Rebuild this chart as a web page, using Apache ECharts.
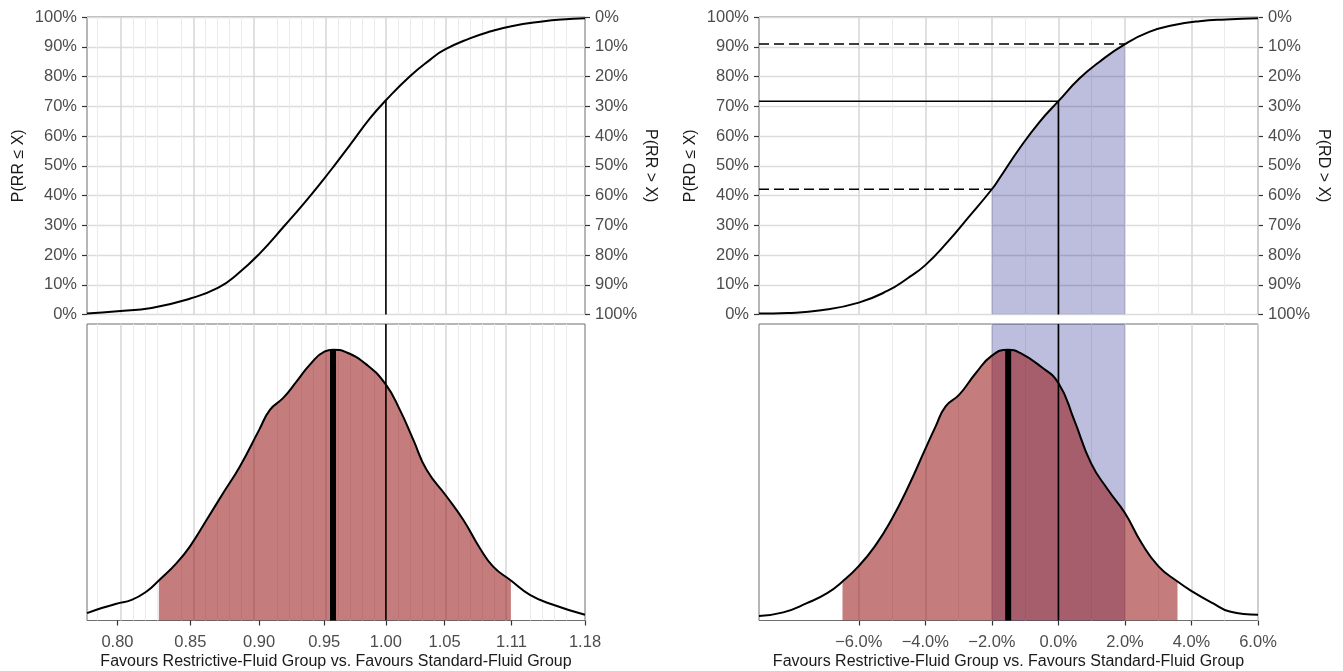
<!DOCTYPE html>
<html><head><meta charset="utf-8">
<script src="https://cdn.jsdelivr.net/npm/echarts@6/dist/echarts.min.js"></script>
<style>html,body{margin:0;padding:0;background:#fff}#c{width:1343px;height:671px}</style>
</head><body><div id="c"></div>
<script>
// ---------------- DATA ----------------
const rrTicks = [0.80, 0.85, 0.90, 0.95, 1.00, 1.05, 1.11, 1.18];
const rdTicks = [-6, -4, -2, 0, 2, 4, 6];
const rdMinorTicks = [-5, -3, -1, 1, 3, 5];

// Relative risk: cumulative probability P(RR <= X)
const rrCdfX = [0.78, 0.80, 0.823, 0.85, 0.870, 0.884, 0.90, 0.9195, 0.935, 0.95, 0.9585, 0.9705, 0.9868, 1.00, 1.0202, 1.0373, 1.05, 1.0723, 1.0903, 1.11, 1.1387, 1.1576, 1.18];
const rrCdfY = [0.003, 0.011, 0.022, 0.054, 0.090, 0.136, 0.203, 0.300, 0.378, 0.457, 0.503, 0.569, 0.659, 0.720, 0.801, 0.856, 0.890, 0.928, 0.951, 0.969, 0.985, 0.992, 0.996];
// Relative risk: posterior density (relative units)
const rrDensX = [0.780, 0.7896, 0.7994, 0.8095, 0.8196, 0.828, 0.8403, 0.8496, 0.8616, 0.8735, 0.8857, 0.900, 0.9081, 0.9182, 0.9285, 0.9388, 0.9505, 0.957, 0.9678, 0.9841, 1.000, 1.0117, 1.023, 1.0344, 1.0518, 1.0664, 1.0813, 1.0933, 1.1095, 1.1272, 1.1492, 1.18];
const rrDensY = [0.027, 0.046, 0.062, 0.076, 0.107, 0.148, 0.212, 0.273, 0.372, 0.471, 0.569, 0.704, 0.778, 0.822, 0.883, 0.945, 0.994, 1.000, 0.990, 0.945, 0.871, 0.778, 0.668, 0.557, 0.458, 0.372, 0.267, 0.199, 0.148, 0.095, 0.058, 0.021];
const rrRef = 1.00, rrMedian = 0.957, rrCrI = [0.828, 1.1095];

// Risk difference (%): cumulative probability P(RD <= X)
const rdCdfX = [-9, -8.14, -7.13, -6, -5.13, -4.53, -4, -3.33, -2.73, -2, -1.77, -1.17, -0.57, 0, 0.63, 1.23, 2, 2.73, 3.44, 4.24, 5.04, 6];
const rdCdfY = [0.003, 0.005, 0.014, 0.040, 0.080, 0.122, 0.166, 0.244, 0.323, 0.421, 0.458, 0.558, 0.647, 0.717, 0.793, 0.849, 0.909, 0.950, 0.972, 0.986, 0.992, 0.996];
// Risk difference: posterior density (relative units)
const rdDensX = [-9, -8.27, -7.56, -6.95, -6.49, -6.01, -5.52, -5.02, -4.51, -4.01, -3.69, -3.39, -2.98, -2.48, -2, -1.51, -1.15, -0.54, 0, 0.47, 0.98, 1.49, 2, 2.5, 3.01, 3.58, 4.03, 4.64, 5.15, 6];
const rdDensY = [0.017, 0.030, 0.064, 0.101, 0.144, 0.200, 0.274, 0.372, 0.495, 0.631, 0.717, 0.791, 0.834, 0.914, 0.978, 1.000, 0.988, 0.939, 0.877, 0.742, 0.581, 0.483, 0.397, 0.286, 0.200, 0.144, 0.107, 0.064, 0.033, 0.021];
const rdRef = 0, rdMedian = -1.51, rdCrI = [-6.49, 3.58], rdRope = [-2, 2];

const xTitle = 'Favours Restrictive-Fluid Group vs. Favours Standard-Fluid Group';

// ---------------- CHART ----------------
const ln = Math.log;
const RR_MIN = 0.78, RR_MAX = 1.18, RD_MIN = -9, RD_MAX = 6, DENS_MAX = 1.095;
const FONT = '"Liberation Sans", Arial, Helvetica, sans-serif';
const LABEL_COL = '#4d4d4d';
const at = (xs, ys, x) => ys[xs.indexOf(x)];
const pct = v => Math.round(v * 100) + '%';
const rdFmt = v => (v < 0 ? '\u2212' : '') + Math.abs(v).toFixed(1) + '%';

const rrMajorL = rrTicks.map(ln);
const rrMinorL = [];
for (let i = 0; i < rrMajorL.length - 1; i++) {
  const a = rrMajorL[i], b = rrMajorL[i + 1];
  for (let k = 1; k < 5; k++) rrMinorL.push(a + (b - a) * k / 5);
}
const rrStep0 = (rrMajorL[1] - rrMajorL[0]) / 5;
if (rrMajorL[0] - rrStep0 > ln(RR_MIN)) rrMinorL.unshift(rrMajorL[0] - rrStep0);

function gridLines(majors, minors) {
  return minors.map(v => ({ xAxis: v, lineStyle: { color: '#ebebeb', width: 1, type: 'solid' } }))
    .concat(majors.map(v => ({ xAxis: v, lineStyle: { color: '#d6d6d6', width: 1.5, type: 'solid' } })));
}
function helper(xi, yi, majors, minors, extra) {
  return Object.assign({
    type: 'line', xAxisIndex: xi, yAxisIndex: yi, data: [], z: 1, silent: true,
    markLine: { silent: true, z: 1, symbol: 'none', animation: false, label: { show: false },
      emphasis: { disabled: true }, data: gridLines(majors, minors) }
  }, extra || {});
}
function lineSeries(xi, yi, data, style, extra) {
  return Object.assign({ type: 'line', xAxisIndex: xi, yAxisIndex: yi, data, symbol: 'none', silent: true,
    clip: true, lineStyle: style, z: 5, animation: false }, extra || {});
}

const rrCdf = rrCdfX.map((x, i) => [ln(x), rrCdfY[i]]);
const rrDens = rrDensX.map((x, i) => [ln(x), rrDensY[i]]);
const rrShade = rrDensX.map((x, i) => [x, rrDensY[i]]).filter(p => p[0] >= rrCrI[0] && p[0] <= rrCrI[1]).map(p => [ln(p[0]), p[1]]);
const rdCdf = rdCdfX.map((x, i) => [x, rdCdfY[i]]);
const rdDens = rdDensX.map((x, i) => [x, rdDensY[i]]);
const rdShade = rdDens.filter(p => p[0] >= rdCrI[0] && p[0] <= rdCrI[1]);
const rdRopeCdf = rdCdf.filter(p => p[0] >= rdRope[0] && p[0] <= rdRope[1]);

const rrRefP = at(rrCdfX, rrCdfY, rrRef);
const rdRefP = at(rdCdfX, rdCdfY, rdRef);
const rdLoP = at(rdCdfX, rdCdfY, rdRope[0]);
const rdHiP = at(rdCdfX, rdCdfY, rdRope[1]);

const GRID_BORDER = { show: true, borderColor: '#6e6e6e', borderWidth: 1, backgroundColor: 'transparent' };
const nameStyle = { fontFamily: FONT, fontSize: 16, color: '#1a1a1a' };
const labStyle = { fontFamily: FONT, fontSize: 16.5, color: LABEL_COL };

function topX(gi, min, max) {
  return { gridIndex: gi, type: 'value', min, max, axisLine: { show: false, onZero: false }, axisTick: { show: false },
    axisLabel: { show: false }, splitLine: { show: false } };
}
function botX(gi, min, max, vals, fmt) {
  return { gridIndex: gi, type: 'value', min, max, axisLine: { show: false, onZero: false },
    axisTick: { show: true, customValues: vals, length: 5, lineStyle: { color: '#333', width: 1.2 } },
    axisLabel: Object.assign({ customValues: vals, formatter: fmt, margin: 13 }, labStyle),
    splitLine: { show: false },
    name: xTitle, nameLocation: 'middle', nameGap: 33, nameTextStyle: nameStyle };
}
function pY(gi, pos, name, inverse) {
  return { gridIndex: gi, type: 'value', position: pos, inverse: !!inverse, min: 0, max: 1, interval: 0.1,
    axisLine: { show: false, onZero: false },
    axisTick: { show: true, length: 5, lineStyle: { color: '#333', width: 1.2 } },
    axisLabel: Object.assign({ formatter: pct, margin: 10 }, labStyle),
    splitLine: { show: pos === 'left', lineStyle: { color: '#dcdcdc', width: 1.3 } },
    name, nameLocation: 'middle', nameGap: pos === 'left' ? 60 : 57, nameRotate: pos === 'left' ? 90 : -90,
    nameTextStyle: nameStyle };
}
function dY(gi) { return { gridIndex: gi, type: 'value', min: 0, max: DENS_MAX, show: false,
  axisLine: { show: false, onZero: false }, splitLine: { show: false } }; }

const black = w => ({ color: '#000', width: w, type: 'solid' });
const RED = 'rgba(148,17,17,0.55)';
const BLUE = 'rgba(0,0,128,0.26)';

const option = {
  animation: false,
  backgroundColor: '#fff',
  grid: [
    Object.assign({ left: 87, top: 17, width: 498, height: 297.5 }, GRID_BORDER),
    Object.assign({ left: 87, top: 324, width: 498, height: 296.5 }, GRID_BORDER),
    Object.assign({ left: 759, top: 17, width: 499, height: 297.5 }, GRID_BORDER),
    Object.assign({ left: 759, top: 324, width: 499, height: 296.5 }, GRID_BORDER)
  ],
  xAxis: [
    topX(0, ln(RR_MIN), ln(RR_MAX)),
    botX(1, ln(RR_MIN), ln(RR_MAX), rrMajorL, v => Math.exp(v).toFixed(2)),
    topX(2, RD_MIN, RD_MAX),
    botX(3, RD_MIN, RD_MAX, rdTicks, rdFmt)
  ],
  yAxis: [
    pY(0, 'left', 'P(RR \u2264 X)'),
    pY(0, 'right', 'P(RR > X)', true),
    dY(1),
    pY(2, 'left', 'P(RD \u2264 X)'),
    pY(2, 'right', 'P(RD > X)', true),
    dY(3)
  ],
  series: [
    // ---- top left
    helper(0, 0, rrMajorL, rrMinorL),
    lineSeries(0, 0, rrCdf, black(2), { smooth: 0.5 }),
    lineSeries(0, 0, [[ln(rrRef), 0], [ln(rrRef), rrRefP]], black(1.6)),
    // ---- bottom left
    helper(1, 2, rrMajorL, rrMinorL),
    lineSeries(1, 2, rrShade, { width: 0, opacity: 0 }, { smooth: true, areaStyle: { color: RED, opacity: 1 }, z: 3 }),
    lineSeries(1, 2, rrDens, black(2), { smooth: true }),
    lineSeries(1, 2, [[ln(rrMedian), 0], [ln(rrMedian), at(rrDensX, rrDensY, rrMedian)]], black(6), { z: 6 }),
    lineSeries(1, 2, [[ln(rrRef), 0], [ln(rrRef), DENS_MAX]], black(1.6)),
    // ---- top right
    helper(2, 3, rdTicks, rdMinorTicks),
    lineSeries(2, 3, rdRopeCdf, { width: 0, opacity: 0 }, { smooth: 0.5, areaStyle: { color: BLUE, opacity: 1 }, z: 3 }),
    lineSeries(2, 3, rdCdf, black(2), { smooth: 0.5 }),
    lineSeries(2, 3, [[RD_MIN, rdRefP], [rdRef, rdRefP]], black(1.6)),
    lineSeries(2, 3, [[rdRef, 0], [rdRef, rdRefP]], black(1.6)),
    lineSeries(2, 3, [[RD_MIN, rdLoP], [rdRope[0], rdLoP]], { color: '#000', width: 1.6, type: [10, 5] }),
    lineSeries(2, 3, [[RD_MIN, rdHiP], [rdRope[1], rdHiP]], { color: '#000', width: 1.6, type: [10, 5] }),
    // ---- bottom right
    helper(3, 5, rdTicks, rdMinorTicks, {
      markArea: { silent: true, z: 2, itemStyle: { color: BLUE }, data: [[{ xAxis: rdRope[0] }, { xAxis: rdRope[1] }]] }
    }),
    lineSeries(3, 5, rdShade, { width: 0, opacity: 0 }, { smooth: true, areaStyle: { color: RED, opacity: 1 }, z: 3 }),
    lineSeries(3, 5, rdDens, black(2), { smooth: true }),
    lineSeries(3, 5, [[rdMedian, 0], [rdMedian, at(rdDensX, rdDensY, rdMedian)]], black(6), { z: 6 }),
    lineSeries(3, 5, [[rdRef, 0], [rdRef, DENS_MAX]], black(1.6))
  ]
};

const chart = echarts.init(document.getElementById('c'), null, { renderer: 'canvas', width: 1343, height: 671 });
chart.setOption(option);
</script>
</body></html>
